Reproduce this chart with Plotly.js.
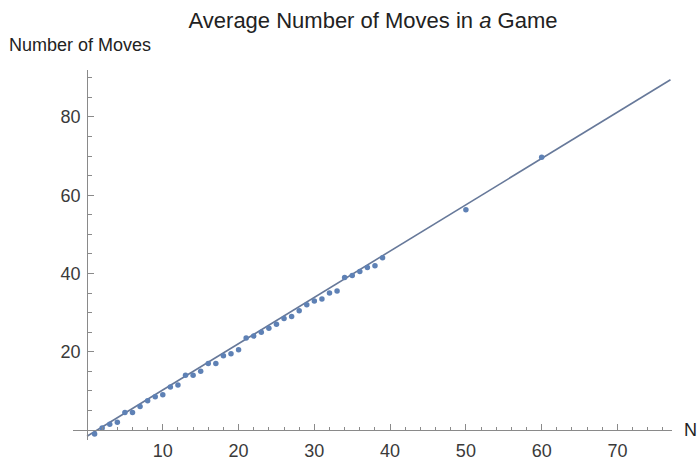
<!DOCTYPE html>
<html>
<head>
<meta charset="utf-8">
<script src="https://cdn.plot.ly/plotly-3.0.1.min.js"></script>
<style>html,body{margin:0;padding:0;background:#fff;overflow:hidden}#chart{width:697px;height:460px}</style>
</head>
<body>
<div id="chart"></div>
<script>
// Data
const pieces = [1,2,3,4,5,6,7,8,9,10,11,12,13,14,15,16,17,18,19,20,21,22,23,24,25,26,27,28,29,30,31,32,33,34,35,36,37,38,39,50,60];
const moves  = [-1,0.5,1.5,2,4.5,4.5,6,7.5,8.5,9,11,11.5,14,14,15,17,17,19,19.5,20.5,23.5,24,25,26,27,28.5,29,30.5,32,33,33.5,35,35.5,39,39.5,40.5,41.5,42,44,56.3,69.7];
// Fitted line (end points of the fit drawn in the reference)
const fitX = [0, 77];
const fitY = [-1.6, 89.5];

const titleText = 'Average Number of Moves in <i>a</i> Game';
const yLabel = 'Number of Moves';
const xLabel = 'N';

const FONT = 'Liberation Sans, Arial, sans-serif';
const AX = '#8a8a8a';
const L = 73, R = 25, T = 70, B = 20;
const W = 697, H = 460;
const xr = [-1.85, 77.2], yr = [-2.55, 92];
const pw = W - L - R, ph = H - T - B;

const traces = [
  {x: fitX, y: fitY, mode: 'lines', line: {color: '#67799a', width: 1.6}, hoverinfo: 'skip'},
  {x: pieces, y: moves, mode: 'markers', marker: {color: '#5e81b5', size: 5.5}}
];

const layout = {
  width: W, height: H,
  margin: {l: L, r: R, t: T, b: B},
  paper_bgcolor: '#fff', plot_bgcolor: '#fff',
  showlegend: false,
  font: {family: FONT, color: '#3a3a3a'},
  title: {text: titleText, font: {family: FONT, size: 22, color: '#222'},
          x: 373 / W, xref: 'container', xanchor: 'center', y: 1 - 20 / H, yref: 'container', yanchor: 'middle'},
  xaxis: {
    range: xr, anchor: 'free', position: (0 - yr[0]) / (yr[1] - yr[0]),
    showgrid: false, zeroline: false, showline: true, linecolor: AX, linewidth: 1.2,
    ticks: 'inside', ticklen: 6, tickcolor: AX, tickwidth: 1,
    tickvals: [10, 20, 30, 40, 50, 60, 70], ticklabelstandoff: 4,
    minor: {dtick: 2, tick0: 0, ticks: 'inside', ticklen: 3.5, tickcolor: AX},
    tickfont: {family: FONT, size: 18, color: '#3a3a3a'}
  },
  yaxis: {
    range: yr, anchor: 'free', position: (0 - xr[0]) / (xr[1] - xr[0]),
    showgrid: false, zeroline: false, showline: true, linecolor: AX, linewidth: 1.2,
    ticks: 'inside', ticklen: 6, tickcolor: AX, tickwidth: 1,
    tickvals: [20, 40, 60, 80], ticklabelstandoff: 3,
    minor: {dtick: 5, tick0: 0, ticks: 'inside', ticklen: 3.5, tickcolor: AX},
    tickfont: {family: FONT, size: 18, color: '#3a3a3a'}
  },
  annotations: [
    {text: yLabel, xref: 'paper', yref: 'paper', x: (7 - L) / pw, y: (H - B - 45) / ph,
     xanchor: 'left', yanchor: 'middle', showarrow: false, font: {family: FONT, size: 18, color: '#222'}},
    {text: xLabel, xref: 'paper', yref: 'paper', x: (682 - L) / pw, y: (H - B - 430) / ph,
     xanchor: 'left', yanchor: 'middle', showarrow: false, font: {family: FONT, size: 18, color: '#222'}}
  ]
};

Plotly.newPlot('chart', traces, layout, {displayModeBar: false, staticPlot: true});
</script>
</body>
</html>
